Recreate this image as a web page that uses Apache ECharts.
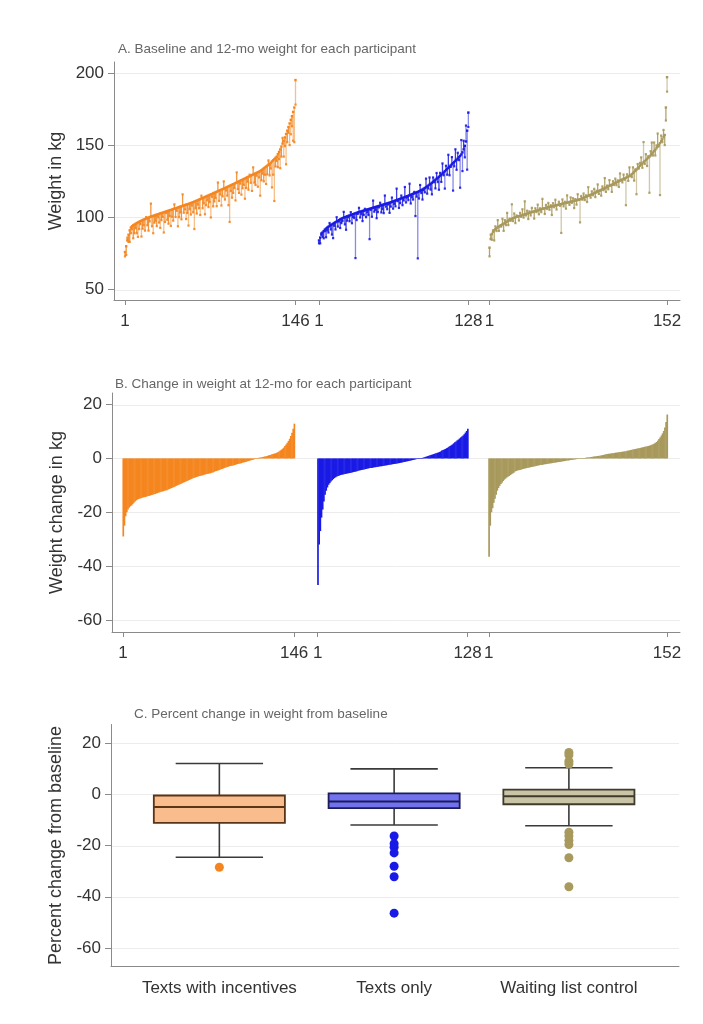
<!DOCTYPE html>
<html><head><meta charset="utf-8">
<script src="https://cdn.jsdelivr.net/npm/echarts@6/dist/echarts.min.js"></script>
<style>html,body{margin:0;padding:0;background:#fff}#c{width:703px;height:1024px}</style>
</head><body><div id="c"></div>
<script>
// ---------- DATA ----------
const groupNames = ['Texts with incentives', 'Texts only', 'Waiting list control'];
const panelTitles = ['A. Baseline and 12-mo weight for each participant',
  'B. Change in weight at 12-mo for each participant',
  'C. Percent change in weight from baseline'];
const yNames = ['Weight in kg', 'Weight change in kg', 'Percent change from baseline'];
const xTickLabels = ['1', '146', '1', '128', '1', '152'];
const yTicksA = [50, 100, 150, 200];
const yTicksB = [20, 0, -20, -40, -60];
const yTicksC = [20, 0, -20, -40, -60];

// Panel A: baseline weight (kg) per participant, ordered as plotted
const baseInc = [76,80,84,88,91,93,93.8,94.5,95,95.5,96,96.5,96.9,97.3,97.7,98.1,98.5,98.8,99.2,99.5,
99.8,100.2,100.5,100.8,101,101.3,101.6,101.9,102.1,102.4,102.7,103,103.2,103.5,103.8,104,104.3,104.6,104.9,105.1,
105.4,105.7,106,106.2,106.5,106.8,107.1,107.4,107.6,107.9,108.2,108.5,108.8,109,109.3,109.6,109.9,110.2,110.5,110.9,
111.2,111.6,111.9,112.3,112.6,113,113.3,113.7,114.1,114.4,114.8,115.1,115.5,115.9,116.2,116.6,117,117.3,117.7,118.1,
118.4,118.8,119.2,119.5,119.9,120.3,120.6,121,121.4,121.8,122.2,122.6,122.9,123.3,123.7,124.1,124.5,124.9,125.3,125.7,
126.1,126.5,126.9,127.3,127.7,128.1,128.5,128.9,129.3,129.6,130,130.4,130.8,131.2,131.6,132,132.6,133.2,133.9,134.5,
135.1,135.7,136.4,137,137.8,138.7,139.5,140.3,141.2,142,143.7,145.3,147,149,151,153,155.3,157.7,160,162.5,
165,167.5,170,173,176,195];
// Panel A: 12-mo minus baseline (kg), same order
const chgInc = [-3,-6,2,-5,-8,-4,-2,-9,-6,-3,
-7,-10,-5,-2,-11,-6,-4,-8,1,-5,
-9,-3,9,-7,-12,-5,-4,-8,-2,-6,
-10,-5,-3,-14,-7,-1,-6,-9,-4,-11,
-5,-8,3,-6,-2,-13,-7,-4,-9,8,
-5,-3,-10,-6,-15,-4,-8,-2,-7,-19,
-5,-9,-3,-6,-11,2,-7,-4,-12,-6,
-3,-8,-5,-16,-2,-9,-6,-4,-10,6,
-7,-3,-11,-5,5,-8,-2,-6,-13,-25,
-4,-9,-6,-3,-12,7,-5,-8,-2,-10,
-6,-4,-14,-7,-3,-9,1,-5,-11,5,
-6,-8,-2,-10,-4,-17,-7,-3,-9,-5,
-12,-6,3,-8,-4,-18,-10,-29,-6,-3,
-9,-5,-13,-7,4,-11,-6,-21,-8,-4,
-15,-10,-7,-20,-24,-17];

const baseTxt = [84,86,88,89.5,90.5,91.5,92.2,92.9,93.5,94.1,94.6,95.1,95.6,96.1,96.6,97.1,97.6,98.1,98.6,99,
99.4,99.8,100.1,100.4,100.7,101,101.3,101.6,101.9,102.2,102.5,102.8,103.1,103.4,103.6,103.9,104.1,104.4,104.6,104.9,
105.1,105.4,105.6,105.9,106.1,106.4,106.6,106.9,107.1,107.4,107.6,107.9,108.1,108.4,108.6,108.9,109.1,109.4,109.6,109.9,
110.1,110.4,110.7,111,111.3,111.6,111.9,112.2,112.5,112.8,113.1,113.4,113.7,114,114.3,114.6,114.9,115.3,115.6,115.9,
116.3,116.6,116.9,117.3,117.6,118,118.4,118.8,119.3,119.8,120.3,120.8,121.4,122,122.6,123.2,123.9,124.6,125.3,126,
126.7,127.4,128.1,128.8,129.5,130.3,131.1,131.9,132.7,133.5,134.3,135.1,135.9,136.7,137.5,138.3,139.1,139.9,140.7,141.6,
142.5,143.5,145,147,149.5,152.5,160,172.5];
const chgTxt = [-2,-4,1,-3,-5,-1,-6,-2,-4,2,
-3,-7,-10,-2,-5,3,-4,-1,-6,-3,
-2,4,-5,-9,-3,-1,-4,2,-6,-2,
-3,-31,-5,-1,3,-4,-2,-7,-3,1,
-5,-2,-4,-21,-1,-6,5,-3,-2,-8,
-4,-1,2,-5,-3,-6,6,-2,-4,-1,
-7,-3,3,-5,-2,-4,8,-1,-6,-3,
2,-5,-2,7,-4,-1,-3,8,-6,-2,
-4,1,-16,-3,-46,-5,4,-2,-7,-1,
-3,6,-5,-2,5,-4,-8,3,-1,-6,
4,-3,-9,2,-5,7,-2,-12,3,-4,
9,-6,-1,5,-19,-3,8,-7,4,-2,
-22,10,-13,6,-8,11,-27,-10];

const baseCtl = [79,85,88.5,90,91,91.8,92.5,93.1,93.6,94.1,94.6,95.1,95.6,96.1,96.6,97.1,97.6,98.1,98.6,99,
99.4,99.7,100,100.3,100.6,100.8,101.1,101.3,101.6,101.8,102.1,102.3,102.6,102.8,103.1,103.3,103.6,103.8,104.1,104.3,
104.6,104.8,105.1,105.3,105.6,105.8,106.1,106.3,106.6,106.8,107,107.2,107.4,107.6,107.8,108,108.2,108.4,108.6,108.8,
109,109.2,109.4,109.6,109.8,110,110.2,110.4,110.6,110.8,111,111.2,111.4,111.6,111.8,112,112.2,112.5,112.8,113.2,
113.5,113.9,114.2,114.6,114.9,115.3,115.6,116,116.3,116.7,117,117.4,117.8,118.2,118.6,119,119.4,119.8,120.2,120.6,
121,121.4,121.8,122.2,122.6,123,123.4,123.8,124.2,124.6,125,125.4,125.8,126.2,126.6,127,127.4,127.8,128.2,128.6,
129,129.8,130.6,131.4,132.2,133,133.9,134.8,135.7,136.5,137.3,138.1,138.9,139.7,140.5,141.3,142,142.8,143.8,144.8,
145.8,146.8,147.8,149,150.2,151.4,152.6,154,155.5,157,176,197];
const chgCtl = [-6,3,-4,1,-7,2,-2,5,-3,0,
-1,4,-5,2,-2,6,-3,1,-1,10,
-2,3,-4,1,0,-3,2,-1,4,-2,
9,-1,2,-4,1,-2,3,0,-5,2,
-1,4,-3,1,-2,7,0,-4,2,-1,
3,-2,1,-6,2,-1,4,-3,0,2,
-1,-20,3,-2,1,-4,5,0,-2,3,
-1,2,-5,1,-3,4,0,-16,2,-1,
3,-2,1,-4,6,0,-2,2,-1,3,
-3,1,5,-2,0,-4,2,-1,7,-3,
1,-2,4,0,-5,2,-1,3,-2,1,
-4,5,0,-2,3,-1,-19,2,-3,6,
0,-2,4,-6,1,-17,3,-1,2,5,
-3,14,-2,4,-5,1,-25,3,8,-2,
6,-4,2,9,-1,-36,4,-2,5,-7,
-9,-10];

// Panel B: change in weight (kg), sorted as plotted
const sortedInc = [-29,-25,-21.5,-20,-19,-18.3,-17.8,-17.5,-17,-16.5,-16,-15.6,-15.3,-15.1,
-14.9,-14.8,-14.6,-14.5,-14.4,-14.3,-14.2,-14.0,-13.9,-13.8,
-13.6,-13.5,-13.3,-13.2,-13.0,-12.9,-12.7,-12.6,-12.4,-12.3,-12.2,-12.0,-11.9,-11.8,
-11.6,-11.4,-11.2,-11.0,-10.8,-10.6,-10.4,-10.2,-10.0,-9.8,-9.6,
-9.4,-9.2,-9.0,-8.8,-8.6,-8.4,-8.2,-8.0,-7.8,-7.6,-7.4,-7.2,-7.1,-6.9,-6.8,
-6.6,-6.5,-6.4,-6.3,-6.2,-6.0,-5.9,-5.8,-5.7,-5.6,-5.5,
-5.3,-5.2,-5.0,-4.8,-4.7,-4.5,-4.4,-4.2,-4.0,-3.9,-3.7,-3.5,-3.4,-3.2,-3.1,-2.9,-2.8,
-2.7,-2.6,-2.5,-2.4,-2.2,-2.1,-2.0,-1.9,-1.8,-1.6,-1.5,
-1.4,-1.3,-1.1,-1.0,-0.9,-0.7,-0.6,-0.5,-0.3,-0.2,0,
0.1,0.2,0.3,0.4,0.5,0.6,0.7,0.8,0.9,1.1,1.2,
1.3,1.5,1.6,1.8,1.9,2.1,2.3,
2.6,2.9,3.2,3.6,4.0,
4.6,5.2,5.8,6.5,
7.3,8.3,9.5,11,12.9];
const sortedTxt = [-47,-32,-27,-22,-19,-16,-13.5,-12,-10.8,-9.8,-9.2,-8.6,-8.1,-7.7,-7.3,-7.0,-6.7,
-6.5,-6.4,-6.2,-6.1,-6.0,-5.9,-5.8,-5.7,-5.6,-5.5,-5.4,-5.3,-5.2,-5.1,-5.0,-4.9,-4.8,-4.6,
-4.5,-4.4,-4.3,-4.2,-4.1,-4.0,-3.9,-3.8,-3.7,-3.6,-3.55,-3.5,-3.4,-3.3,-3.25,-3.2,-3.1,
-3.0,-2.95,-2.9,-2.8,-2.7,-2.65,-2.6,-2.5,-2.4,-2.35,-2.3,-2.2,-2.1,-2.05,-2.0,-1.9,-1.8,-1.75,
-1.65,-1.55,-1.45,-1.35,-1.25,-1.15,-1.05,-0.95,-0.85,-0.75,-0.65,-0.55,-0.45,-0.35,-0.25,-0.15,-0.05,0,
0.1,0.25,0.4,0.55,0.7,0.85,1.0,1.15,1.3,1.45,1.6,1.75,1.9,2.05,2.2,2.4,2.6,2.9,
3.1,3.3,3.5,3.8,4.0,4.3,4.6,4.9,5.2,5.6,6.0,
6.3,6.7,7.0,7.4,7.8,8.1,8.5,
9.0,9.6,10.2,11.0];
const sortedCtl = [-36.5,-25,-20,-18.5,-16.5,-15,-13.5,-12,-11,-10.2,-9.5,-9.0,-8.4,-7.9,-7.5,-7.1,-6.8,-6.5,-6.2,-5.9,-5.6,-5.3,-4.9,
-4.7,-4.5,-4.4,-4.3,-4.2,-4.0,-3.9,-3.8,-3.7,-3.6,-3.5,-3.4,-3.3,-3.2,-3.1,-3.0,-2.9,-2.8,
-2.7,-2.6,-2.5,-2.45,-2.4,-2.3,-2.2,-2.15,-2.1,-2.0,-1.9,-1.85,-1.8,-1.7,-1.6,-1.55,-1.5,-1.4,-1.35,-1.3,-1.2,-1.1,-1.05,-1.0,-0.9,
-0.8,-0.75,-0.7,-0.6,-0.55,-0.5,-0.4,-0.35,-0.3,-0.2,-0.15,-0.1,-0.05,0,
0.1,0.15,0.2,0.3,0.35,0.4,0.5,0.55,0.6,0.7,0.75,0.8,0.9,0.95,1.0,1.1,1.2,1.3,1.4,1.5,1.6,
1.7,1.75,1.8,1.9,1.95,2.0,2.1,2.15,2.2,2.3,2.35,2.4,2.5,2.55,2.6,2.7,2.8,2.9,
3.0,3.1,3.2,3.3,3.4,3.5,3.6,3.7,3.8,3.9,4.0,4.1,4.2,4.3,4.4,4.5,4.6,4.75,
4.9,5.1,5.3,5.5,5.8,6.1,6.6,
7.2,7.8,8.5,9.3,10.2,11.5,13.5,16.3];

// Panel C: percent change box stats [lower whisker, Q1, median, Q3, upper whisker]
const boxInc = [-24.6, -11.2, -5.0, -0.5, 12.0];
const boxTxt = [-12.0, -5.4, -2.8, 0.3, 9.9];
const boxCtl = [-12.3, -3.9, -0.8, 1.8, 10.3];
const outInc = [-28.5];
const outTxt = [-16.3, -19.3, -20.7, -22.9, -28.1, -32.2, -46.4];
const outCtl = [16.3, 15.3, 12.9, 11.8, -14.8, -16.3, -18.0, -19.6, -24.8, -36.1];

// ---------- STYLE / LAYOUT ----------
const FONT = '"Liberation Sans", Arial, sans-serif';
const colors = ['#F5861F', '#1A1AE6', '#A8995C'];
const spikeCols = ['#F08a2a', '#2a2ad8', '#A99a60'];
const boxFill = ['#F9BC8C', '#7272EC', '#CAC4A6'];
const boxLine = ['#5a3414', '#1c1c5c', '#3e3b2c'];
const offsets = [0, 165, 310];
const AX = '#8a8a8a';
const TXT = '#333';

const bases = [baseInc, baseTxt, baseCtl];
const chgs = [chgInc, chgTxt, chgCtl];
const sorteds = [sortedInc, sortedTxt, sortedCtl];
const boxes = [boxInc, boxTxt, boxCtl];
const outs = [outInc, outTxt, outCtl];

const xTickPos = [];
bases.forEach((b, g) => { xTickPos.push(offsets[g] + 1, offsets[g] + b.length); });

const chart = echarts.init(document.getElementById('c'), null, {renderer: 'canvas'});

function gridLineSeries(gi, ticks) {
  return {
    type: 'custom', xAxisIndex: gi, yAxisIndex: gi, silent: true, z: 0,
    data: ticks.map(t => [0, t]), encode: {x: 0, y: 1},
    renderItem: (params, api) => {
      const cs = params.coordSys;
      const y = Math.round(api.coord([0, api.value(1)])[1]) + 0.5;
      return {type: 'line', shape: {x1: cs.x + 1, y1: y, x2: cs.x + cs.width, y2: y},
        style: {stroke: '#ececec', lineWidth: 1}};
    }
  };
}

const series = [gridLineSeries(0, yTicksA), gridLineSeries(1, yTicksB), gridLineSeries(2, yTicksC)];

bases.forEach((b, g) => {
  const col = colors[g], scol = spikeCols[g];
  series.push({
    type: 'custom', xAxisIndex: 0, yAxisIndex: 0, silent: true, z: 2,
    data: b.map((v, i) => [offsets[g] + i + 1, v, v + chgs[g][i]]),
    encode: {x: 0, y: [1, 2]},
    renderItem: (params, api) => {
      const x = api.value(0);
      const p1 = api.coord([x, api.value(1)]);
      const p2 = api.coord([x, api.value(2)]);
      const long = Math.abs(api.value(2) - api.value(1)) > 9;
      return {type: 'group', children: [
        {type: 'line', shape: {x1: p1[0], y1: p1[1], x2: p2[0], y2: p2[1]},
          style: {stroke: scol, lineWidth: 1.3, opacity: long ? 0.55 : 0.9}},
        {type: 'rect', shape: {x: p2[0] - 1.1, y: p2[1] - 1.1, width: 2.2, height: 2.2}, style: {fill: col, opacity: 0.9}},
        {type: 'rect', shape: {x: p1[0] - 1.2, y: p1[1] - 1.2, width: 2.4, height: 2.4}, style: {fill: col}}
      ]};
    }
  });
});

sorteds.forEach((s, g) => {
  const col = colors[g];
  series.push({
    type: 'custom', xAxisIndex: 1, yAxisIndex: 1, silent: true, z: 2,
    data: s.map((v, i) => [offsets[g] + i + 1, v]),
    encode: {x: 0, y: 1},
    renderItem: (params, api) => {
      const x = api.value(0), v = api.value(1);
      const a = api.coord([x - 0.5, 0]);
      const b = api.coord([x + 0.5, v]);
      return {type: 'rect', shape: {x: a[0], y: Math.min(a[1], b[1]), width: b[0] - a[0] + 0.5,
        height: Math.max(0.6, Math.abs(b[1] - a[1]))}, style: {fill: col}};
    }
  });
});

series.push({
  type: 'custom', xAxisIndex: 2, yAxisIndex: 2, silent: true, z: 2,
  data: boxes.map((bx, g) => [g + 1].concat(bx)),
  encode: {x: 0, y: [1, 2, 3, 4, 5]},
  renderItem: (params, api) => {
    const i = params.dataIndex;
    const x = api.value(0);
    const pLo = api.coord([x, api.value(1)]), pQ1 = api.coord([x, api.value(2)]),
      pMd = api.coord([x, api.value(3)]), pQ3 = api.coord([x, api.value(4)]), pHi = api.coord([x, api.value(5)]);
    const bw = api.size([0.75, 0])[0], cw = api.size([0.5, 0])[0];
    const cx = pMd[0];
    const ws = {stroke: '#3a3a3a', lineWidth: 1.6};
    return {type: 'group', children: [
      {type: 'line', shape: {x1: cx, y1: pHi[1], x2: cx, y2: pQ3[1]}, style: ws},
      {type: 'line', shape: {x1: cx, y1: pQ1[1], x2: cx, y2: pLo[1]}, style: ws},
      {type: 'line', shape: {x1: cx - cw / 2, y1: pHi[1], x2: cx + cw / 2, y2: pHi[1]}, style: ws},
      {type: 'line', shape: {x1: cx - cw / 2, y1: pLo[1], x2: cx + cw / 2, y2: pLo[1]}, style: ws},
      {type: 'rect', shape: {x: cx - bw / 2, y: pQ3[1], width: bw, height: pQ1[1] - pQ3[1]},
        style: {fill: boxFill[i], stroke: boxLine[i], lineWidth: 1.8}},
      {type: 'line', shape: {x1: cx - bw / 2, y1: pMd[1], x2: cx + bw / 2, y2: pMd[1]},
        style: {stroke: boxLine[i], lineWidth: 2}}
    ]};
  }
});
outs.forEach((o, g) => {
  series.push({
    type: 'scatter', xAxisIndex: 2, yAxisIndex: 2, silent: true, z: 4,
    data: o.map(v => [g + 1, v]), symbol: 'circle', symbolSize: 9,
    itemStyle: {color: colors[g], opacity: 1}
  });
});

function xAx(gi, min, max, ticks, fmt, showTick) {
  return {
    gridIndex: gi, type: 'value', min: min, max: max,
    axisLine: {show: true, onZero: false, lineStyle: {color: AX, width: 1}},
    axisTick: {show: showTick, customValues: ticks, length: 5, lineStyle: {color: AX}},
    axisLabel: {show: true, customValues: ticks, formatter: fmt, fontSize: 17, color: TXT,
      fontFamily: FONT, margin: 13},
    splitLine: {show: false}
  };
}
function yAx(gi, min, max, ticks, name, gap) {
  return {
    gridIndex: gi, type: 'value', min: min, max: max,
    axisLine: {show: true, onZero: false, lineStyle: {color: AX, width: 1}},
    axisTick: {show: true, customValues: ticks, length: 6, lineStyle: {color: AX}},
    axisLabel: {show: true, customValues: ticks, fontSize: 17, color: TXT, fontFamily: FONT, margin: 10},
    splitLine: {show: false},
    name: name, nameLocation: 'middle', nameGap: gap,
    nameTextStyle: {fontSize: 18, color: TXT, fontFamily: FONT}
  };
}
const fmtIdx = v => { const k = xTickPos.indexOf(Math.round(v)); return k >= 0 ? xTickLabels[k] : ''; };
const fmtCat = v => groupNames[Math.round(v) - 1] || '';

const option = {
  backgroundColor: '#fff',
  animation: false,
  grid: [
    {left: 114, right: 23, top: 62, height: 238, containLabel: false, outerBoundsMode: 'none'},
    {left: 112, right: 23, top: 393, height: 239, containLabel: false, outerBoundsMode: 'none'},
    {left: 111, right: 24, top: 724.5, height: 242, containLabel: false, outerBoundsMode: 'none'}
  ],
  xAxis: [
    xAx(0, -8.35, 473, xTickPos, fmtIdx, true),
    xAx(1, -8.35, 473, xTickPos, fmtIdx, true),
    xAx(2, 0.38, 3.63, [1, 2, 3], fmtCat, false)
  ],
  yAxis: [
    yAx(0, 42.8, 207.5, yTicksA, yNames[0], 47),
    yAx(1, -64.5, 24.3, yTicksB, yNames[1], 46),
    yAx(2, -67.2, 27.2, yTicksC, yNames[2], 46)
  ],
  graphic: [
    {type: 'text', left: 118, top: 42, style: {text: panelTitles[0], fontSize: 13.5, fill: '#666', fontFamily: FONT}},
    {type: 'text', left: 115, top: 377, style: {text: panelTitles[1], fontSize: 13.5, fill: '#666', fontFamily: FONT}},
    {type: 'text', left: 134, top: 707, style: {text: panelTitles[2], fontSize: 13.5, fill: '#666', fontFamily: FONT}}
  ],
  series: series
};
chart.setOption(option);
</script>
</body></html>
